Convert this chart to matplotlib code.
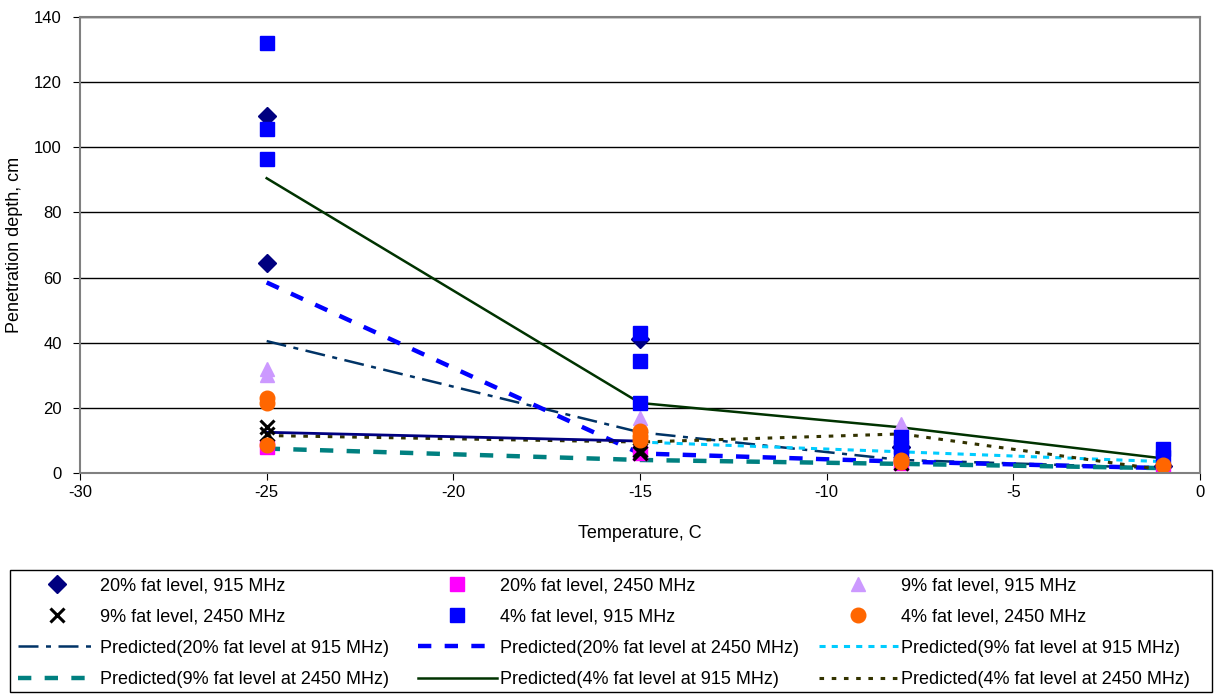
import matplotlib
matplotlib.use("Agg")
import matplotlib.pyplot as plt
from matplotlib.patches import Rectangle

plt.rcParams['font.family'] = ['Liberation Sans', 'DejaVu Sans']
plt.rcParams['axes.unicode_minus'] = False

# ---- measured data ----
x_20_915 = [-25, -25, -15, -8, -1]
y_20_915 = [109.5, 64.5, 41, 8, 2]

x_20_2450 = [-25, -15, -8, -1]
y_20_2450 = [8, 6, 3, 0.5]

x_9_915 = [-25, -25, -15, -15, -8, -1]
y_9_915 = [32, 30, 17, 15, 15, 1]

x_9_2450 = [-25, -25, -15, -15, -8, -1]
y_9_2450 = [14, 12, 7, 6, 3, 0.5]

x_4_915 = [-25, -25, -25, -15, -15, -15, -8, -8, -8, -1, -1]
y_4_915 = [132, 105.5, 96.5, 43, 34.5, 21.5, 11, 8, 5, 7.5, 5]

x_4_2450 = [-25, -25, -25, -15, -15, -15, -8, -8, -1]
y_4_2450 = [23, 21.5, 8.5, 13, 11.5, 10, 4, 3.5, 2.5]

# ---- predicted curves ----
px = [-25, -15, -8, -1]
p_20_915 = [40.5, 12.5, 4, 1.5]
p_20_2450 = [58.5, 6, 3.5, 1.5]
px_9_915 = [-15, -8, -1]
p_9_915 = [9.5, 6.5, 3.5]
p_9_2450 = [7.5, 4, 2.8, 1.5]
p_4_915 = [90.5, 21.5, 14, 4.5]
p_4_2450 = [11.5, 9.5, 12, 1]

extra_x = [-25, -15]
extra_y = [12.5, 9.8]

xticks = [-30, -25, -20, -15, -10, -5, 0]
yticks = [0, 20, 40, 60, 80, 100, 120, 140]

W, H = 1225, 694
fig = plt.figure(figsize=(W/100, H/100), dpi=100)
ax = fig.add_axes([80/W, 1 - 473/H, 1120/W, 456/H])

ms = 10.5
l1, = ax.plot(px, p_20_915, color='#003366', lw=1.8, dashes=[8, 3, 2, 3],
              label='Predicted(20% fat level at 915 MHz)')
l2, = ax.plot(px, p_20_2450, color='#0000FF', lw=3.2, dashes=[3, 3],
              label='Predicted(20% fat level at 2450 MHz)')
l3, = ax.plot(px_9_915, p_9_915, color='#00CCFF', lw=2.2, dashes=[2, 2],
              label='Predicted(9% fat level at 915 MHz)')
l4, = ax.plot(px, p_9_2450, color='#008080', lw=3.2, dashes=[3, 3],
              label='Predicted(9% fat level at 2450 MHz)')
l5, = ax.plot(px, p_4_915, color='#003300', lw=1.8,
              label='Predicted(4% fat level at 915 MHz)')
l6, = ax.plot(px, p_4_2450, color='#333300', lw=2.2, dashes=[1.5, 2.5],
              label='Predicted(4% fat level at 2450 MHz)')
ax.plot(extra_x, extra_y, color='#000080', lw=2)

s1, = ax.plot(x_20_915, y_20_915, ls='none', marker='D', ms=ms*0.85, color='#000080',
              label='20% fat level, 915 MHz')
s2, = ax.plot(x_20_2450, y_20_2450, ls='none', marker='s', ms=ms, color='#FF00FF',
              label='20% fat level, 2450 MHz')
s3, = ax.plot(x_9_915, y_9_915, ls='none', marker='^', ms=ms, color='#CC99FF',
              label='9% fat level, 915 MHz')
s4, = ax.plot(x_9_2450, y_9_2450, ls='none', marker='x', ms=ms, mew=2.2, color='black',
              label='9% fat level, 2450 MHz')
s5, = ax.plot(x_4_915, y_4_915, ls='none', marker='s', ms=ms, color='#0000FF',
              label='4% fat level, 915 MHz')
s6, = ax.plot(x_4_2450, y_4_2450, ls='none', marker='o', ms=ms, color='#FF6600',
              label='4% fat level, 2450 MHz')

ax.set_xlim(-30, 0)
ax.set_ylim(0, 140)
ax.set_xticks(xticks)
ax.set_yticks(yticks)
ax.yaxis.grid(True, color='black', lw=1)
ax.set_axisbelow(True)
for sp in ax.spines.values():
    sp.set_color('#808080')
    sp.set_linewidth(1.5)
ax.tick_params(labelsize=12, direction='out', length=5, color='black')
ax.tick_params(axis='y', pad=8)
ax.set_xlabel('Temperature, C', fontsize=13, labelpad=18)
ax.set_ylabel('Penetration depth, cm', fontsize=13, labelpad=8)

# legend frame
fig.patches.append(Rectangle((10/W, 2/H), 1202/W, 122/H, transform=fig.transFigure,
                             fill=False, edgecolor='black', lw=1))

cols = [[s1, s4, l1, l4], [s2, s5, l2, l5], [s3, s6, l3, l6]]
xstarts = [14, 414, 815]
for hs, xs in zip(cols, xstarts):
    fig.legend(handles=hs, labels=[h.get_label() for h in hs],
               loc='upper left', bbox_to_anchor=(xs/W, 1 - 574/H),
               bbox_transform=fig.transFigure,
               fontsize=13, frameon=False, handlelength=4.4,
               handletextpad=0.15, labelspacing=0.78, borderpad=0.2,
               borderaxespad=0)

fig.savefig('out.png', dpi=100)
